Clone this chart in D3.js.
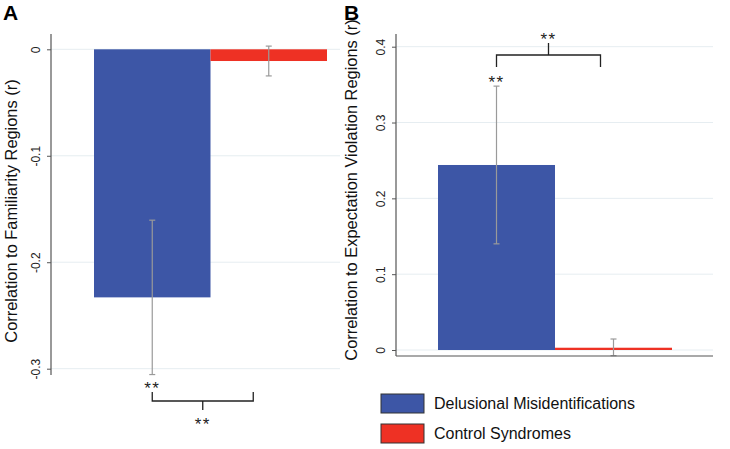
<!DOCTYPE html>
<html><head><meta charset="utf-8">
<script src="https://cdn.jsdelivr.net/npm/d3@7"></script>
<style>body{margin:0;background:#fff}svg{font-family:"Liberation Sans",Arial,sans-serif}</style>
</head><body><svg id="c" width="730" height="449"></svg>
<script>
const categories = ["Delusional Misidentifications", "Control Syndromes"];
const colors = ["#3d56a6", "#ee3124"];
// Panel A: correlation to familiarity regions
const valuesA = [-0.233, -0.011];
const errLowA = [-0.3055, -0.025];
const errHighA = [-0.1605, 0.003];
const ticksA = [0, -0.1, -0.2, -0.3];
// Panel B: correlation to expectation violation regions
const valuesB = [0.244, 0.003];
const errLowB = [0.140, -0.0075];
const errHighB = [0.348, 0.0145];
const ticksB = [0, 0.1, 0.2, 0.3, 0.4];
const sigLabel = "**";

const svg = d3.select("#c");
const fmt = d => d === 0 ? "0" : d3.format(".1f")(d).replace("\u2212", "-");

function sig(g, x, cy) {
  g.append("text").attr("x", x).attr("y", cy + 10).attr("text-anchor", "middle")
    .attr("font-size", 17).attr("letter-spacing", 1.5).attr("fill", "#222").text(sigLabel);
}

function panel(cfg) {
  const g = svg.append("g");
  const y = d3.scaleLinear().domain(cfg.domain).range(cfg.yRange);
  const x = d3.scaleBand().domain(categories).range(cfg.xRange).padding(0);
  g.selectAll(".grid").data(cfg.ticks).join("line")
    .attr("x1", cfg.axisX).attr("x2", cfg.gridEnd)
    .attr("y1", d => y(d)).attr("y2", d => y(d))
    .attr("stroke", "#e6edf1").attr("stroke-width", 1);
  g.selectAll(".bar").data(cfg.values).join("rect")
    .attr("x", (d, i) => x(categories[i]))
    .attr("width", x.bandwidth())
    .attr("y", d => Math.min(y(0), y(d)))
    .attr("height", d => Math.max(Math.abs(y(d) - y(0)), 2))
    .attr("fill", (d, i) => colors[i]);
  const eg = g.selectAll(".err").data(cfg.values).join("g")
    .attr("stroke", "#9a9a9a").attr("stroke-width", 1.2);
  eg.append("line")
    .attr("x1", (d, i) => x(categories[i]) + x.bandwidth() / 2)
    .attr("x2", (d, i) => x(categories[i]) + x.bandwidth() / 2)
    .attr("y1", (d, i) => y(cfg.low[i])).attr("y2", (d, i) => y(cfg.high[i]));
  [cfg.low, cfg.high].forEach(arr => {
    eg.append("line")
      .attr("x1", (d, i) => x(categories[i]) + x.bandwidth() / 2 - 3)
      .attr("x2", (d, i) => x(categories[i]) + x.bandwidth() / 2 + 3)
      .attr("y1", (d, i) => y(arr[i])).attr("y2", (d, i) => y(arr[i]));
  });
  const ax = g.append("g").attr("transform", `translate(${cfg.axisX},0)`)
    .call(d3.axisLeft(y).tickValues(cfg.ticks).tickFormat(fmt).tickSize(4).tickSizeOuter(0));
  ax.select(".domain").remove();
  ax.append("line").attr("x1", 0).attr("x2", 0)
    .attr("y1", cfg.axisTop).attr("y2", cfg.axisBottom).attr("stroke", "#555").attr("stroke-width", 1.2);
  ax.selectAll(".tick line").attr("stroke", "#555");
  ax.selectAll(".tick text")
    .attr("transform", "rotate(-90)")
    .attr("x", 0).attr("y", -11).attr("dy", 0)
    .attr("text-anchor", "middle")
    .attr("font-size", 12).attr("fill", "#222")
    .attr("font-family", "Liberation Sans, Arial, sans-serif");
  if (cfg.xAxis) {
    g.append("line").attr("x1", cfg.axisX).attr("x2", cfg.gridEnd)
      .attr("y1", cfg.axisBottom).attr("y2", cfg.axisBottom)
      .attr("stroke", "#555").attr("stroke-width", 1.2);
  }
  g.append("text")
    .attr("transform", `translate(${cfg.titleX},${cfg.titleY}) rotate(-90)`)
    .attr("text-anchor", "middle").attr("font-size", 16.4).attr("fill", "#111")
    .text(cfg.title);
  g.append("text").attr("x", cfg.letterX).attr("y", 20)
    .attr("font-size", 21).attr("font-weight", "bold").attr("fill", "#000")
    .text(cfg.letter);
  return {g, x, y};
}

const A = panel({
  domain: [0, -0.3], yRange: [49.3, 368.7], xRange: [94, 327],
  ticks: ticksA, values: valuesA, low: errLowA, high: errHighA,
  axisX: 51, axisTop: 34, axisBottom: 375, gridEnd: 340,
  title: "Correlation to Familiarity Regions (r)", titleX: 17, titleY: 211,
  letter: "A", letterX: 3, xAxis: false
});
{
  const cx0 = A.x(categories[0]) + A.x.bandwidth() / 2;
  const cx1 = cx0 + 101;
  const g = A.g;
  sig(g, cx0, 384);
  g.append("path")
    .attr("d", `M${cx0},392V401H${cx1}V392M${(cx0 + cx1) / 2},401V410`)
    .attr("fill", "none").attr("stroke", "#222").attr("stroke-width", 1.3);
  sig(g, (cx0 + cx1) / 2, 420);
}

const B = panel({
  domain: [0, 0.4], yRange: [350, 46.7], xRange: [438, 672],
  ticks: ticksB, values: valuesB, low: errLowB, high: errHighB,
  axisX: 396, axisTop: 34, axisBottom: 356, gridEnd: 713,
  title: "Correlation to Expectation Violation Regions (r)", titleX: 357, titleY: 190,
  letter: "B", letterX: 344, xAxis: true
});
{
  const cx0 = B.x(categories[0]) + B.x.bandwidth() / 2;
  const cx1 = cx0 + 104;
  const g = B.g;
  sig(g, cx0, 78);
  g.append("path")
    .attr("d", `M${cx0},67V55H${cx1}V67M${(cx0 + cx1) / 2},55V43`)
    .attr("fill", "none").attr("stroke", "#222").attr("stroke-width", 1.3);
  sig(g, (cx0 + cx1) / 2, 35);
}

const lg = svg.append("g");
categories.forEach((c, i) => {
  lg.append("rect").attr("x", 381).attr("y", 394 + i * 30).attr("width", 43).attr("height", 19)
    .attr("fill", colors[i]).attr("stroke", "#333").attr("stroke-width", 1);
  lg.append("text").attr("x", 434).attr("y", 409 + i * 30)
    .attr("font-size", 16).attr("fill", "#111").text(c);
});
</script></body></html>
